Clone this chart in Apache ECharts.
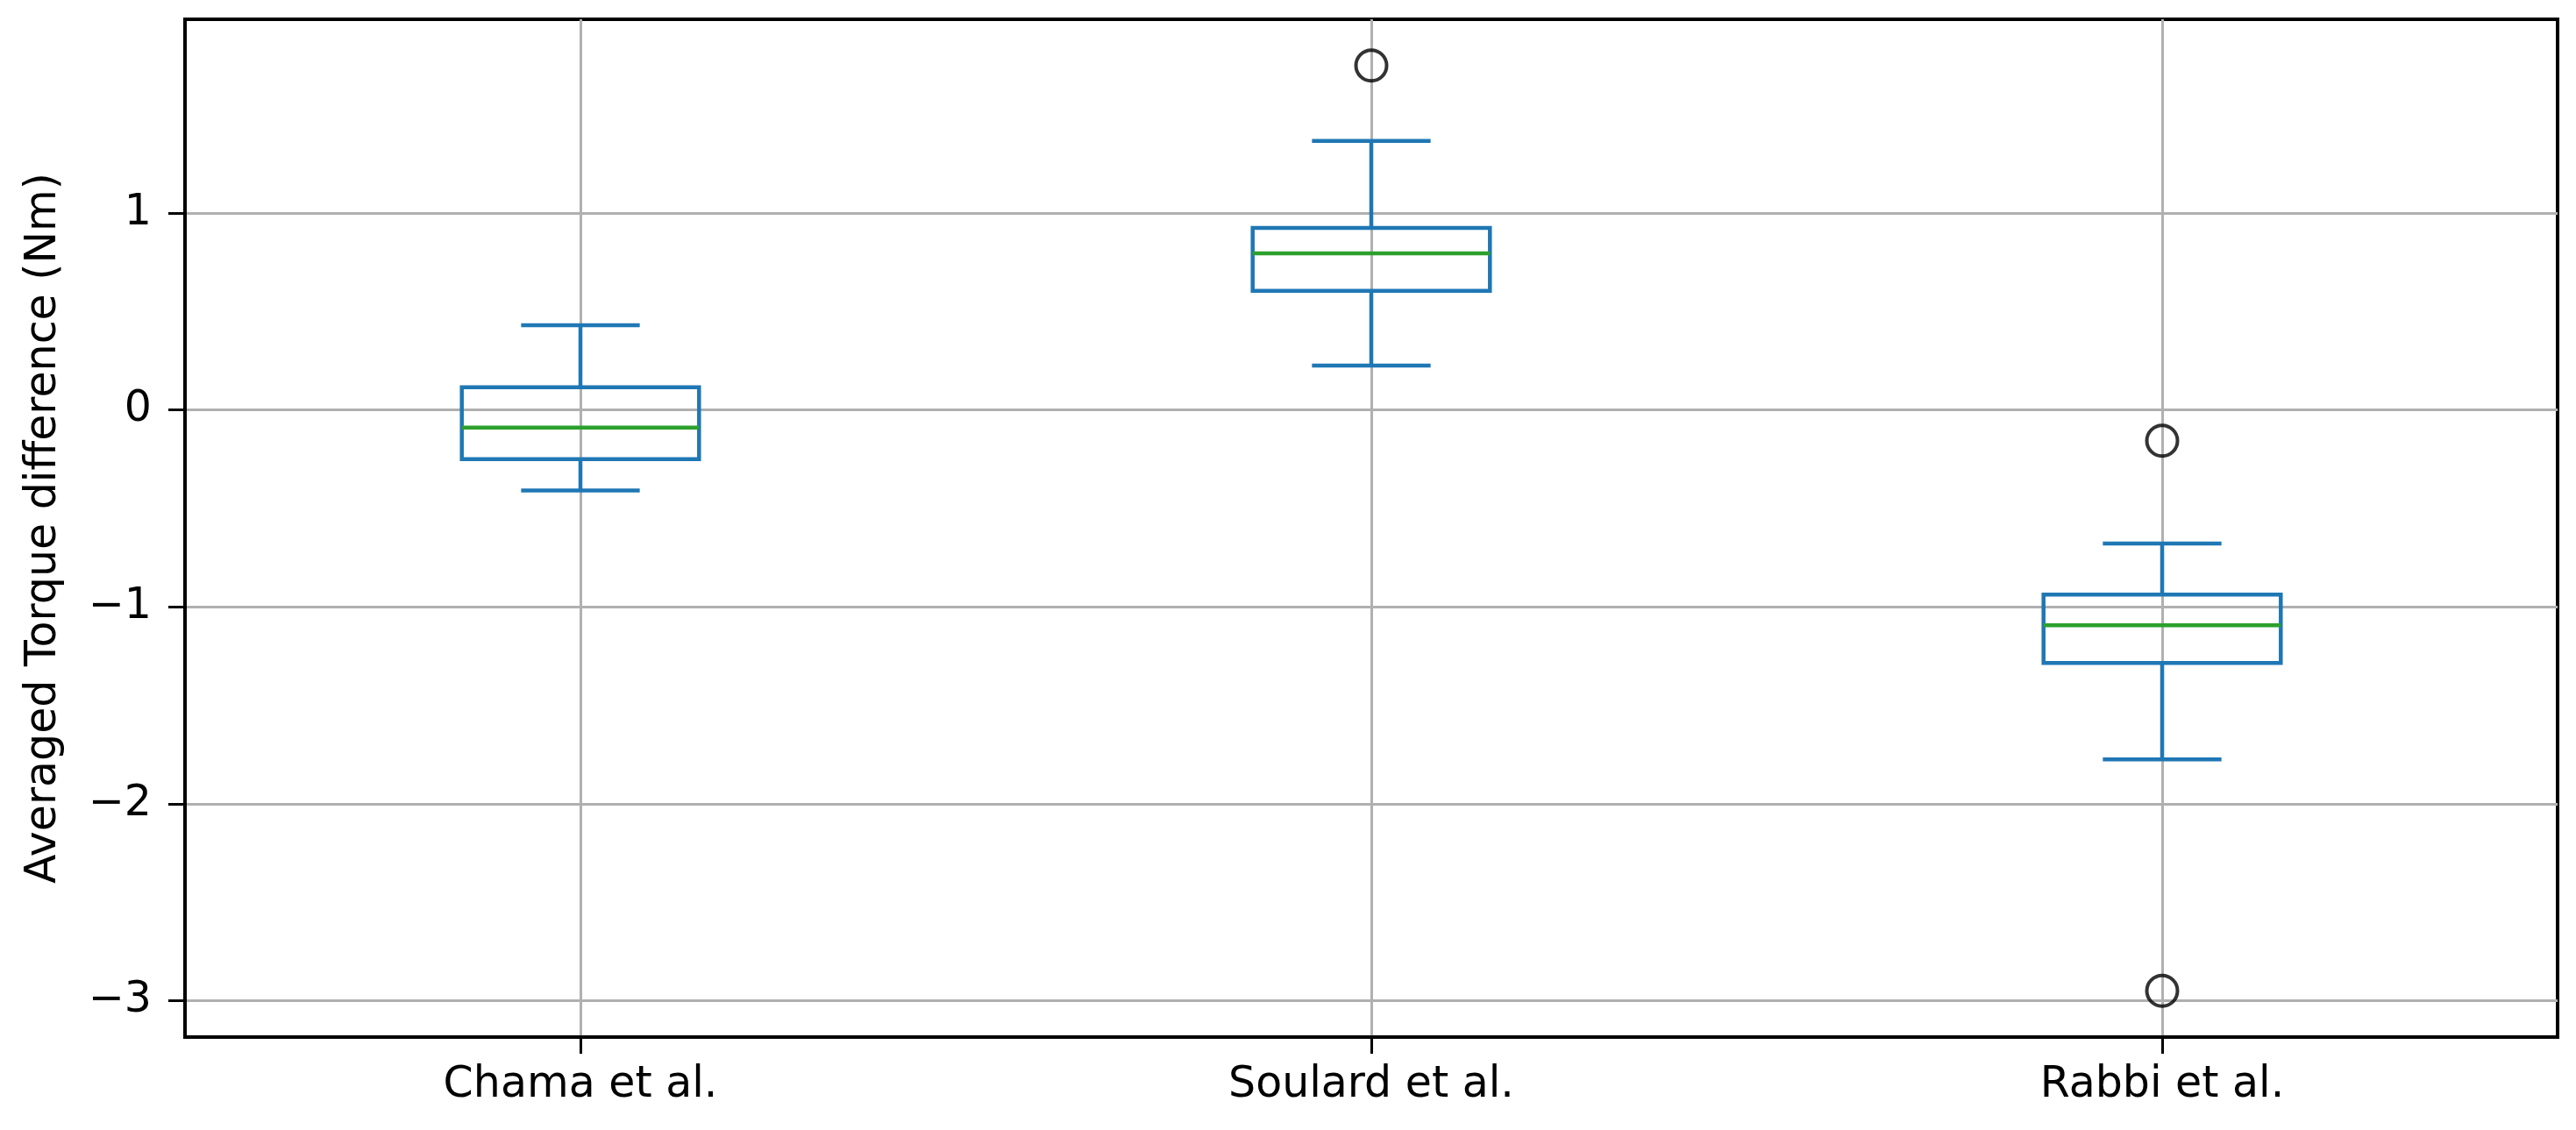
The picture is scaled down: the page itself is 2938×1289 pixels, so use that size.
<!DOCTYPE html>
<html style="height: 100%">
   <head>
       <meta charset="utf-8">
       <title>Averaged Torque difference</title>
   </head>
   <body style="height: 100%; margin: 0; background: #fff">
        <div id="container" style="height: 100%"></div>
        <script src="https://cdn.jsdelivr.net/npm/echarts@6/dist/echarts.min.js"></script>
        <script type="text/javascript">
            // values
            var categories = ['Chama et al.', 'Soulard et al.', 'Rabbi et al.'];
            var whiskerLow = [-0.41, 0.225, -1.775];
            var q1 = [-0.25, 0.604, -1.285];
            var median = [-0.09, 0.795, -1.094];
            var q3 = [0.114, 0.924, -0.938];
            var whiskerHigh = [0.43, 1.365, -0.679];
            // [category index, value]
            var outliers = [[1, 1.748], [2, -0.157], [2, -2.95]];
            var yTicks = [-3, -2, -1, 0, 1];
            var xTicks = [1, 2, 3];

            var dom = document.getElementById("container");
            var myChart = echarts.init(dom);

            var boxData = [];
            for (var i = 0; i < categories.length; i++) {
                boxData.push([i + 1, whiskerLow[i], q1[i], median[i], q3[i], whiskerHigh[i]]);
            }
            var flierData = outliers.map(function (o) { return [o[0] + 1, o[1]]; });

            var blue = '#1f77b4';
            var lw = 4.5;

            function renderBox(params, api) {
                var x = api.value(0);
                var pLow = api.coord([x, api.value(1)]);
                var pQ1 = api.coord([x, api.value(2)]);
                var pMed = api.coord([x, api.value(3)]);
                var pQ3 = api.coord([x, api.value(4)]);
                var pHigh = api.coord([x, api.value(5)]);
                var half = api.size([0.3, 0])[0] / 2;
                var cap = half / 2;
                var cx = pMed[0];
                var st = { stroke: blue, lineWidth: lw, fill: null };
                return {
                    type: 'group',
                    children: [
                        { type: 'line', shape: { x1: cx, y1: pQ3[1], x2: cx, y2: pHigh[1] }, style: st },
                        { type: 'line', shape: { x1: cx, y1: pQ1[1], x2: cx, y2: pLow[1] }, style: st },
                        { type: 'line', shape: { x1: cx - cap, y1: pHigh[1], x2: cx + cap, y2: pHigh[1] }, style: st },
                        { type: 'line', shape: { x1: cx - cap, y1: pLow[1], x2: cx + cap, y2: pLow[1] }, style: st },
                        { type: 'rect', shape: { x: cx - half, y: pQ3[1], width: half * 2, height: pQ1[1] - pQ3[1] },
                          style: { stroke: blue, lineWidth: lw, fill: null } },
                        { type: 'line', shape: { x1: cx - half, y1: pMed[1], x2: cx + half, y2: pMed[1] },
                          style: { stroke: '#2ca02c', lineWidth: lw } }
                    ]
                };
            }

            var font = 'DejaVu Sans';
            var option = {
                backgroundColor: '#fff',
                animation: false,
                grid: {
                    left: 211, right: 21, top: 22, bottom: 106,
                    show: true, borderColor: '#000', borderWidth: 4,
                    containLabel: false
                },
                xAxis: {
                    type: 'value',
                    min: 0.5, max: 3.5,
                    axisLine: { show: true, onZero: false, lineStyle: { color: '#000', width: 4 } },
                    axisTick: { show: true, length: 19, customValues: xTicks, lineStyle: { color: '#000', width: 3 } },
                    axisLabel: {
                        customValues: xTicks,
                        margin: 31,
                        color: '#000', fontFamily: font, fontSize: 49,
                        formatter: function (v) { return categories[Math.round(v) - 1] || ''; }
                    },
                    splitLine: { show: true, lineStyle: { color: '#b0b0b0', width: 3 } }
                },
                yAxis: {
                    type: 'value',
                    min: -3.185, max: 1.983,
                    name: 'Averaged Torque difference (Nm)',
                    nameLocation: 'middle',
                    nameGap: 136,
                    nameTextStyle: { color: '#000', fontFamily: font, fontSize: 49 },
                    axisLine: { show: true, onZero: false, lineStyle: { color: '#000', width: 4 } },
                    axisTick: { show: true, length: 19, customValues: yTicks, lineStyle: { color: '#000', width: 3 } },
                    axisLabel: {
                        customValues: yTicks,
                        margin: 38,
                        color: '#000', fontFamily: font, fontSize: 49,
                        formatter: function (v) { return v < 0 ? '\u2212' + Math.abs(v) : String(v); }
                    },
                    splitLine: { show: true, lineStyle: { color: '#b0b0b0', width: 3 } }
                },
                series: [
                    {
                        type: 'custom',
                        renderItem: renderBox,
                        encode: { x: 0, y: [1, 2, 3, 4, 5] },
                        data: boxData,
                        z: 3
                    },
                    {
                        type: 'scatter',
                        data: flierData,
                        symbol: 'circle',
                        symbolSize: 35,
                        itemStyle: { color: 'transparent', borderColor: '#000', borderWidth: 4 },
                        z: 4
                    }
                ]
            };
            myChart.setOption(option, true);
       </script>
   </body>
</html>
